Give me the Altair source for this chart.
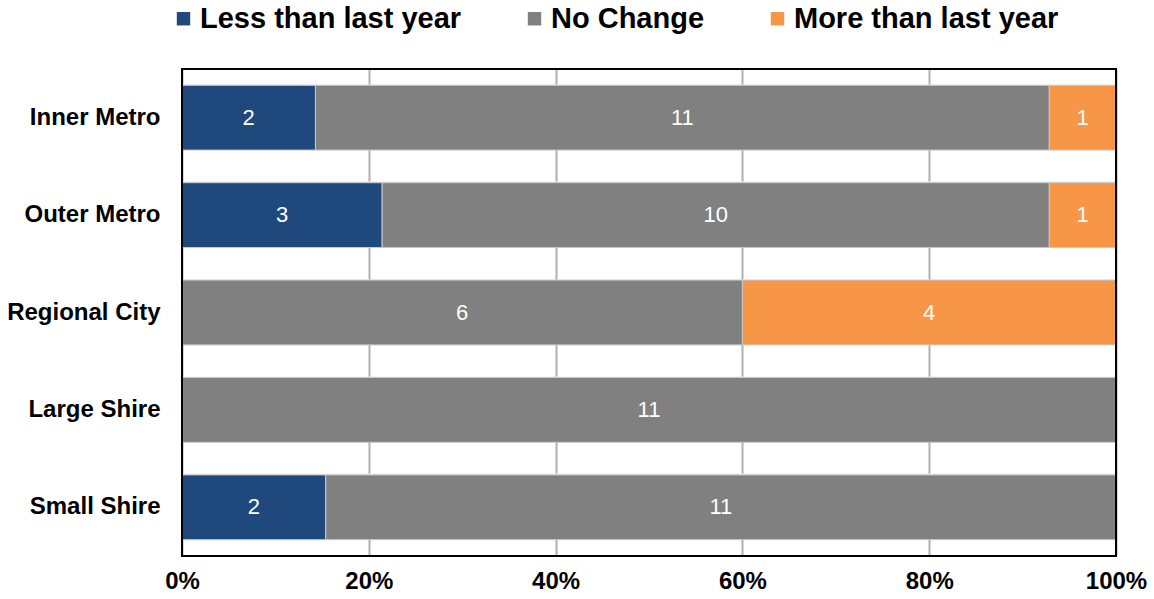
import altair as alt
import pandas as pd

regions = ["Inner Metro", "Outer Metro", "Regional City", "Large Shire", "Small Shire"]
series = ["Less than last year", "No Change", "More than last year"]
less_vals = [2, 3, 0, 0, 2]
same_vals = [11, 10, 6, 11, 11]
more_vals = [1, 1, 4, 0, 0]
colors = ["#1F497D", "#808080", "#F79646"]
x_ticks = [0, 0.2, 0.4, 0.6, 0.8, 1.0]

rows = []
for i, r in enumerate(regions):
    for j, (s, vals) in enumerate(zip(series, [less_vals, same_vals, more_vals])):
        rows.append({"region": r, "series": s, "count": vals[i], "order": j})
df = pd.DataFrame(rows)

FONT = "Liberation Sans"
W, H = 934, 487

base = alt.Chart(df).transform_stack(
    stack="count",
    groupby=["region"],
    as_=["x0", "x1"],
    offset="normalize",
    sort=[alt.SortField("order", order="ascending")],
).transform_calculate(mid="(datum.x0 + datum.x1) / 2")

y_enc = alt.Y(
    "region:N",
    sort=regions,
    title=None,
    scale=alt.Scale(paddingInner=0.335, paddingOuter=0.1675),
    axis=alt.Axis(
        labelFont=FONT, labelFontSize=24, labelFontWeight="bold", labelColor="#000",
        labelPadding=22, ticks=False, domain=False,
        grid=True, gridColor="#ebebeb", gridWidth=2, bandPosition=0,
    ),
)

bars = base.mark_bar(stroke="#c8c8c8", strokeWidth=1).encode(
    x=alt.X(
        "x0:Q",
        scale=alt.Scale(domain=[0, 1], nice=False),
        title=None,
        axis=alt.Axis(
            values=x_ticks, format="%", labelFont=FONT, labelFontSize=24,
            labelFontWeight="bold", labelColor="#000", labelPadding=13,
            labelFlush=False, labelOverlap=False,
            ticks=False, domain=False, grid=True, gridColor="#b0b0b0", gridWidth=2,
        ),
    ),
    x2="x1:Q",
    y=y_enc,
    color=alt.Color(
        "series:N",
        scale=alt.Scale(domain=series, range=colors),
        title=None,
        legend=alt.Legend(
            orient="none", direction="horizontal", legendX=-13, legendY=-65,
            labelFont=FONT, labelFontSize=29, labelFontWeight="bold", labelColor="#000",
            labelLimit=600, symbolType="square", symbolSize=180, symbolStrokeWidth=0,
            labelOffset=2, columnPadding=58, padding=0,
        ),
    ),
    order=alt.Order("order:Q"),
)

labels = base.transform_filter("datum.count > 0").mark_text(
    color="white", font=FONT, fontSize=22, baseline="middle", align="center"
).encode(
    x="mid:Q",
    y=alt.Y("region:N", sort=regions),
    text="count:Q",
)

frame = alt.Chart(pd.DataFrame({"k": [0]})).mark_rect(
    fill=None, stroke="#000", strokeWidth=2
).encode(
    x=alt.value(0), x2=alt.value(W), y=alt.value(0), y2=alt.value(H)
)

chart = (bars + labels + frame).properties(
    width=W, height=H,
    autosize=alt.AutoSizeParams(type="none"),
    padding={"left": 182, "top": 69, "right": 38, "bottom": 43},
).configure_view(stroke=None).configure(background="white")

chart.save("out.html", embed_options={"renderer": "svg", "actions": False})
